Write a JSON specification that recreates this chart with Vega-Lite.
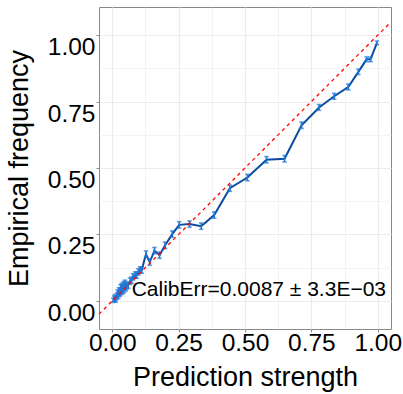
{
  "$schema": "https://vega.github.io/schema/vega-lite/v6.json",
  "width": 292,
  "height": 322,
  "autosize": "none",
  "padding": {"left": 99, "top": 7, "right": 12, "bottom": 65},
  "background": "white",
  "config": {
    "font": "Liberation Sans",
    "view": {"stroke": "#888888", "strokeWidth": 1},
    "axis": {
      "domain": false,
      "gridColor": "#ebebeb",
      "tickColor": "#888888",
      "tickWidth": 1,
      "labelColor": "#000000",
      "labelFontSize": 24.5,
      "labelOverlap": false,
      "labelFlush": false,
      "titleColor": "#000000",
      "titleFontSize": 27,
      "titleFontWeight": "normal"
    }
  },
  "datasets": {
    "calib": [
      {"x": 0.004, "y": 0.002, "err": 0.008},
      {"x": 0.007, "y": 0.008, "err": 0.010},
      {"x": 0.010, "y": 0.012, "err": 0.011},
      {"x": 0.013, "y": 0.006, "err": 0.011},
      {"x": 0.017, "y": 0.017, "err": 0.012},
      {"x": 0.020, "y": 0.029, "err": 0.012},
      {"x": 0.023, "y": 0.021, "err": 0.012},
      {"x": 0.025, "y": 0.037, "err": 0.012},
      {"x": 0.029, "y": 0.029, "err": 0.012},
      {"x": 0.031, "y": 0.048, "err": 0.013},
      {"x": 0.034, "y": 0.036, "err": 0.013},
      {"x": 0.036, "y": 0.053, "err": 0.013},
      {"x": 0.039, "y": 0.040, "err": 0.013},
      {"x": 0.042, "y": 0.059, "err": 0.013},
      {"x": 0.044, "y": 0.044, "err": 0.013},
      {"x": 0.048, "y": 0.065, "err": 0.013},
      {"x": 0.051, "y": 0.050, "err": 0.013},
      {"x": 0.054, "y": 0.057, "err": 0.013},
      {"x": 0.060, "y": 0.059, "err": 0.012},
      {"x": 0.067, "y": 0.074, "err": 0.012},
      {"x": 0.073, "y": 0.078, "err": 0.012},
      {"x": 0.078, "y": 0.090, "err": 0.012},
      {"x": 0.086, "y": 0.097, "err": 0.012},
      {"x": 0.092, "y": 0.097, "err": 0.012},
      {"x": 0.098, "y": 0.109, "err": 0.012},
      {"x": 0.105, "y": 0.116, "err": 0.012},
      {"x": 0.111, "y": 0.116, "err": 0.012},
      {"x": 0.127, "y": 0.176, "err": 0.012},
      {"x": 0.141, "y": 0.146, "err": 0.012},
      {"x": 0.159, "y": 0.189, "err": 0.012},
      {"x": 0.178, "y": 0.172, "err": 0.012},
      {"x": 0.199, "y": 0.209, "err": 0.012},
      {"x": 0.226, "y": 0.251, "err": 0.012},
      {"x": 0.252, "y": 0.286, "err": 0.012},
      {"x": 0.291, "y": 0.289, "err": 0.012},
      {"x": 0.335, "y": 0.281, "err": 0.012},
      {"x": 0.384, "y": 0.323, "err": 0.012},
      {"x": 0.443, "y": 0.424, "err": 0.012},
      {"x": 0.509, "y": 0.464, "err": 0.012},
      {"x": 0.581, "y": 0.531, "err": 0.012},
      {"x": 0.649, "y": 0.535, "err": 0.012},
      {"x": 0.713, "y": 0.661, "err": 0.012},
      {"x": 0.779, "y": 0.728, "err": 0.011},
      {"x": 0.836, "y": 0.770, "err": 0.011},
      {"x": 0.889, "y": 0.805, "err": 0.011},
      {"x": 0.927, "y": 0.862, "err": 0.010},
      {"x": 0.958, "y": 0.909, "err": 0.009},
      {"x": 0.973, "y": 0.909, "err": 0.009},
      {"x": 0.997, "y": 0.971, "err": 0.007}
    ],
    "diag": [
      {"x": -0.05, "y": -0.05},
      {"x": 1.05, "y": 1.05}
    ],
    "note": [
      {"x": 0.073, "y": 0.018, "label": "CalibErr=0.0087 ± 3.3E−03"}
    ]
  },
  "encoding": {
    "x": {
      "field": "x",
      "type": "quantitative",
      "scale": {"domain": [-0.05, 1.05], "nice": false, "zero": false},
      "axis": {
        "title": "Prediction strength",
        "values": [0, 0.125, 0.25, 0.375, 0.5, 0.625, 0.75, 0.875, 1],
        "labelExpr": "datum.value % 0.25 == 0 ? format(datum.value, '.2f') : ''",
        "gridWidth": {"condition": {"test": "datum.value % 0.25 != 0", "value": 0.6}, "value": 1.2},
        "tickSize": {"condition": {"test": "datum.value % 0.25 != 0", "value": 0}, "value": 3},
        "labelBaseline": "alphabetic",
        "labelPadding": 18,
        "titleX": 146,
        "titleY": 56,
        "titleBaseline": "alphabetic",
        "titleAlign": "center"
      }
    },
    "y": {
      "field": "y",
      "type": "quantitative",
      "scale": {"domain": [-0.106, 1.106], "nice": false, "zero": false},
      "axis": {
        "title": "Empirical frequency",
        "values": [0, 0.125, 0.25, 0.375, 0.5, 0.625, 0.75, 0.875, 1],
        "labelExpr": "datum.value % 0.25 == 0 ? format(datum.value, '.2f') : ''",
        "gridWidth": {"condition": {"test": "datum.value % 0.25 != 0", "value": 0.6}, "value": 1.2},
        "tickSize": {"condition": {"test": "datum.value % 0.25 != 0", "value": 0}, "value": 3},
        "labelBaseline": "alphabetic",
        "labelOffset": 19.5,
        "labelPadding": 1,
        "titleAngle": -90,
        "titleX": -71.5,
        "titleY": 161,
        "titleBaseline": "alphabetic",
        "titleAlign": "center"
      }
    }
  },
  "layer": [
    {
      "data": {"name": "calib"},
      "mark": {"type": "line", "color": "#0b4ca3", "strokeWidth": 2}
    },
    {
      "data": {"name": "calib"},
      "mark": {"type": "errorbar", "color": "#2077d6", "thickness": 1.6, "ticks": {"size": 4.5, "color": "#2077d6"}},
      "encoding": {"yError": {"field": "err"}}
    },
    {
      "data": {"name": "diag"},
      "mark": {"type": "line", "color": "#ff0000", "strokeWidth": 1.3, "strokeDash": [3.5, 3.5]}
    },
    {
      "data": {"name": "note"},
      "mark": {"type": "text", "align": "left", "baseline": "alphabetic", "fontSize": 21, "color": "#000000"},
      "encoding": {"text": {"field": "label"}}
    }
  ]
}
